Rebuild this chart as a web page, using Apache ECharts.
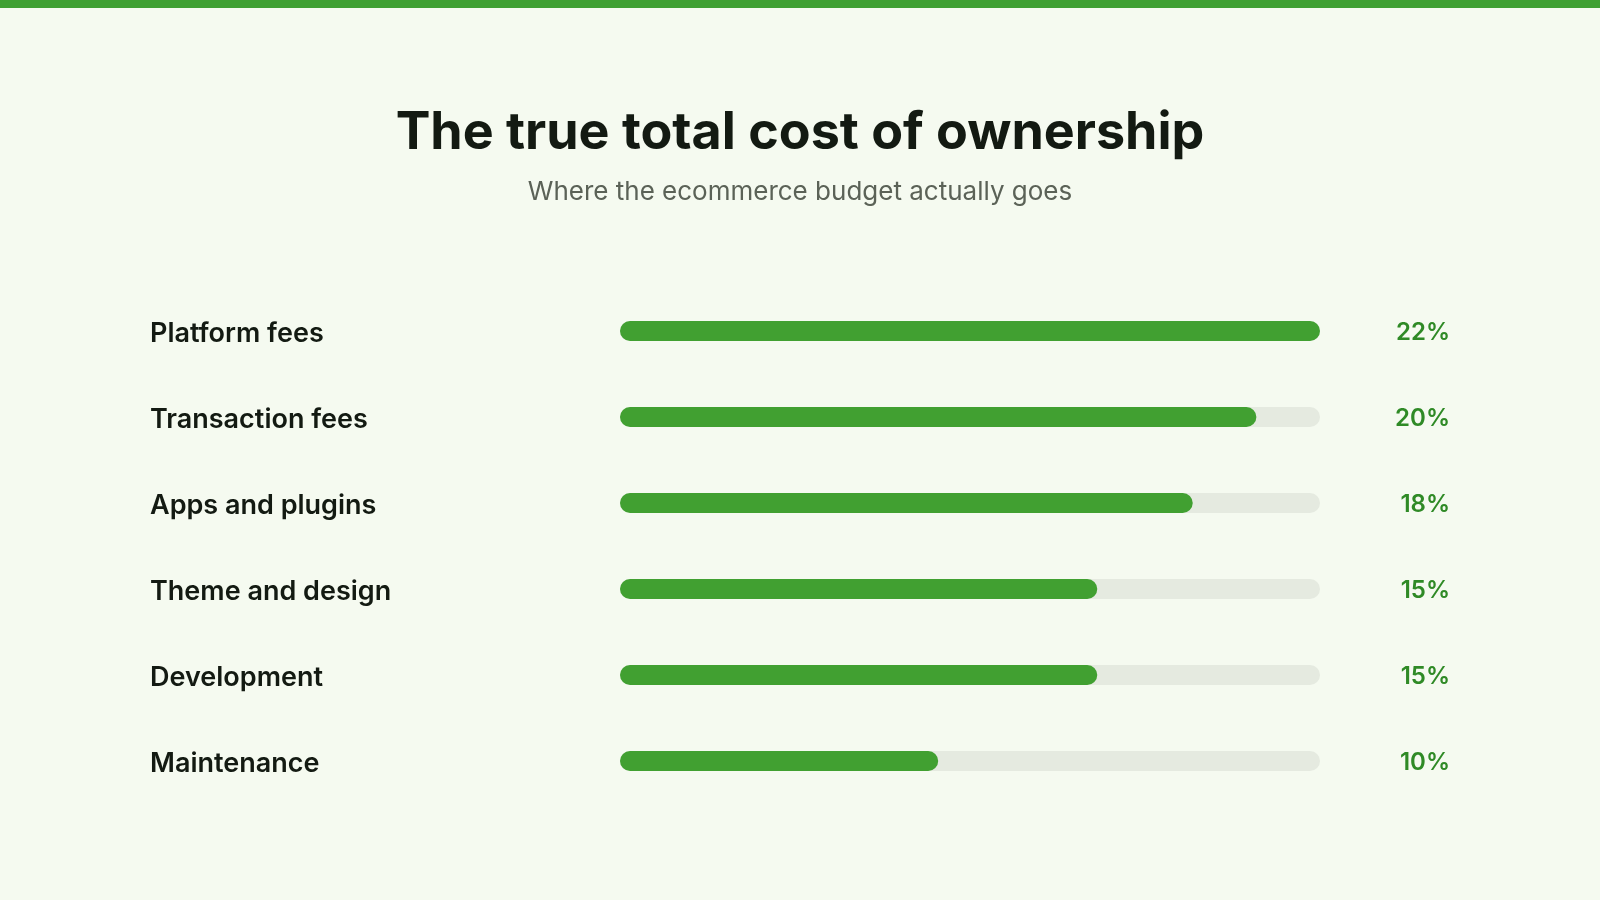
<!DOCTYPE html>
<html>
<head>
<meta charset="utf-8">
<title>The true total cost of ownership</title>
<script src="https://cdn.jsdelivr.net/npm/echarts@6/dist/echarts.min.js"></script>
<style>
  html, body { margin: 0; padding: 0; background: #f5faf0; }
  #chart { width: 1600px; height: 900px; }
</style>
</head>
<body>
<div id="chart"></div>
<script>
// data
var categories = ['Platform fees', 'Transaction fees', 'Apps and plugins', 'Theme and design', 'Development', 'Maintenance'];
var shares = [22, 20, 18, 15, 15, 10];
var shareLabels = shares.map(function (v) { return v + '%'; });

var chart = echarts.init(document.getElementById('chart'));

var option = {
  backgroundColor: '#f5faf0',
  textStyle: { fontFamily: 'Inter, "Noto Sans", sans-serif' },
  graphic: [
    { // green stripe along the top
      type: 'rect',
      left: 0, top: 0,
      shape: { width: 1600, height: 8 },
      style: { fill: '#3fa033' }
    }
  ],
  title: {
    text: 'The true total cost of ownership',
    subtext: 'Where the ecommerce budget actually goes',
    left: 'center',
    top: 102,
    itemGap: 20,
    textStyle: { fontSize: 52, fontWeight: 700, color: '#131a12', fontFamily: 'Inter, sans-serif' },
    subtextStyle: { fontSize: 26, color: '#5b6257', fontFamily: 'Inter, sans-serif' }
  },
  grid: { left: 620, right: 280, top: 288, bottom: 96 },
  xAxis: { type: 'value', min: 0, max: 22, show: false },
  yAxis: [
    {
      type: 'category',
      data: categories,
      inverse: true,
      axisLine: { show: false },
      axisTick: { show: false },
      // labels sit a few px below the bar centre in the original
      axisLabel: { align: 'left', verticalAlign: 'top', lineHeight: 6, margin: 470, fontSize: 27, fontWeight: 600, color: '#131a12' }
    },
    {
      type: 'category',
      data: shareLabels,
      inverse: true,
      position: 'right',
      axisLine: { show: false },
      axisTick: { show: false },
      axisLabel: { align: 'right', verticalAlign: 'top', lineHeight: 3, margin: 130, fontSize: 24, fontWeight: 600, color: '#2f8a26' }
    }
  ],
  series: [
    {
      type: 'bar',
      data: shares,
      barWidth: 20,
      showBackground: true,
      backgroundStyle: { color: '#e5eae0', borderRadius: 10 },
      itemStyle: { color: '#41a031', borderRadius: 10 },
      silent: true
    }
  ]
};

chart.setOption(option);
</script>
</body>
</html>
